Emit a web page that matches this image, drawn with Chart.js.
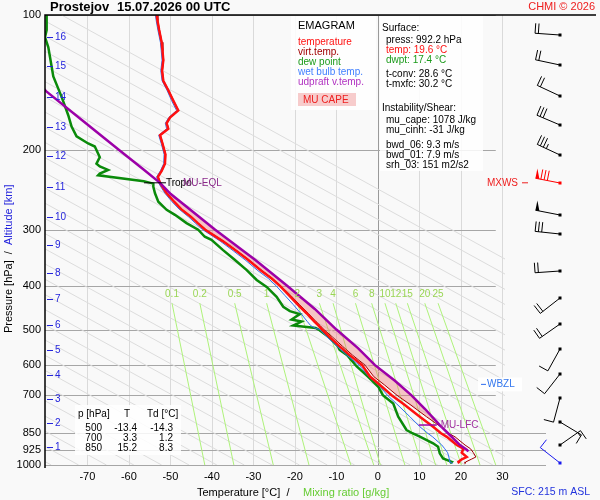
<!DOCTYPE html>
<html>
<head>
<meta charset="utf-8">
<title>Emagram Prostejov</title>
<script src="https://cdn.jsdelivr.net/npm/chart.js@4.4.0/dist/chart.umd.min.js"></script>
<style>
  html, body { margin: 0; padding: 0; background: #f9f9f9; }
  canvas { display: block; }
</style>
</head>
<body>
<canvas id="emagram" width="600" height="500"></canvas>
<script>
/*
*/
// environment profile levels [hPa]
const tPres = [100, 103, 108, 115, 120, 126, 133, 140, 147, 155,
  163, 169, 174, 179, 185, 193, 204, 214, 222, 229,
  236, 240, 249, 260, 270, 281, 290, 300, 318, 335,
  350, 370, 385, 400, 420, 440, 460, 480, 490, 497,
  500, 520, 545, 570, 600, 636, 664, 700, 731, 781,
  822, 850, 866, 903, 920, 939, 960, 971, 984, 992];
// temperature [°C]
const tVals = [-53.3, -53.1, -52.7, -52.1, -51.9, -51.7, -52.0, -51.7, -50.5, -49.3,
  -48.1, -50.1, -50.9, -50.5, -52.5, -51.9, -51.2, -51.3, -52.1, -53.0,
  -52.5, -52.0, -50.9, -49.1, -47.4, -45.0, -43.4, -41.6, -37.4, -34.0,
  -31.3, -28.1, -25.6, -23.6, -21.4, -19.3, -17.2, -15.3, -14.3, -13.7,
  -13.4, -11.6, -9.2, -6.8, -3.8, -1.9, 0.5, 3.3, 6.1, 10.1,
  13.3, 15.2, 16.6, 19.0, 20.6, 20.2, 21.4, 20.2, 19.4, 19.6];
// virtual temperature [°C]
const tvVals = [-53.2, -53.0, -52.6, -52.0, -51.8, -51.6, -51.9, -51.6, -50.4, -49.2,
  -48.0, -50.0, -50.8, -50.4, -52.4, -51.8, -51.1, -51.2, -52.0, -52.9,
  -52.4, -51.9, -50.8, -49.0, -47.3, -44.9, -43.3, -41.5, -37.2, -33.8,
  -31.1, -27.9, -25.4, -23.4, -21.0, -18.9, -16.8, -14.9, -13.9, -13.3,
  -13.0, -10.9, -8.5, -6.1, -3.1, -1.0, 1.6, 4.6, 7.5, 11.7,
  15.1, 17.0, 18.6, 21.0, 22.3, 23.0, 23.6, 22.5, 21.2, 21.0];
// wet bulb temperature [°C]
const twVals = [-53.6, -53.4, -53.0, -52.4, -52.2, -52.0, -52.3, -52.0, -50.8, -49.7,
  -48.5, -50.4, -51.2, -50.9, -52.8, -52.2, -51.5, -51.6, -52.4, -53.3,
  -52.8, -52.4, -51.3, -49.6, -47.9, -45.6, -44.0, -42.2, -38.0, -34.7,
  -32.0, -28.9, -26.4, -24.5, -22.4, -20.4, -18.6, -17.0, -16.2, -15.0,
  -14.0, -12.2, -9.8, -7.5, -4.5, -2.2, 0.2, 2.3, 4.5, 7.7,
  10.1, 12.0, 13.2, 15.4, 16.1, 16.8, 17.1, 17.2, 17.3, 18.0];

// dew point has its own levels
const tdPres = [100, 108, 112, 118, 127, 137, 152, 167, 177, 186,
  193, 196, 207, 214, 217, 221, 225, 227, 234, 237,
  241, 249, 260, 271, 278, 290, 300, 311, 316, 333,
  350, 369, 388, 402, 423, 445, 455, 462, 475, 480,
  490, 496, 500, 520, 545, 555, 570, 604, 636, 670,
  700, 730, 781, 836, 850, 865, 895, 911, 942, 967,
  984, 992];
const tdVals = [-79.8, -79.8, -80.2, -79.4, -78.8, -78.2, -76.2, -74.6, -73.8, -72.6,
  -69.8, -68.2, -67.0, -67.8, -67.0, -65.0, -67.0, -67.4, -56.4, -54.1,
  -54.1, -53.7, -52.9, -50.9, -48.9, -46.1, -43.3, -41.7, -40.1, -37.3,
  -34.5, -31.6, -29.2, -26.8, -24.4, -22.8, -21.2, -18.8, -20.8, -18.4,
  -20.4, -15.0, -14.3, -11.8, -9.6, -9.2, -7.4, -5.1, -2.4, 0.1,
  1.2, 3.7, 4.9, 6.9, 8.3, 10.1, 13.3, 14.5, 14.9, 15.7,
  17.8, 17.4];

// most unstable parcel (virtual temperature)
const parcelPres = [140, 148, 170, 200, 220, 236, 250, 300, 350, 400, 450, 500,
  550, 600, 650, 700, 750, 800, 815, 850, 900, 925, 933];
const parcelVals = [-82.6, -79.8, -71.7, -62.2, -56.6, -52.5, -49.9, -39.2, -29.6, -21.8, -15.2, -10.0,
  -4.8, -0.7, 4.1, 8.1, 11.3, 14.1, 14.9, 16.9, 19.6, 21.4, 21.8];

const muLfcPres = 815;
const muEqlPres = 236;
const tropoPres = 236;
const wbzlPres = 662;

// winds: pressure [hPa], direction [deg], speed [kt]
const windPres = [111, 129, 151, 176, 205, 236, 278, 307, 371, 426, 486, 552, 628, 710, 803, 903, 990];
const windDir = [274, 282, 295, 293, 295, 281, 281, 276, 266, 232, 235, 209, 218, 195, 121, 55, 308];
const windSpd = [20, 20, 20, 30, 35, 80, 50, 30, 20, 20, 20, 10, 10, 10, 10, 15, 10];
const mxwsIndex = 5;

// axes
const presTicks = [100, 200, 300, 400, 500, 600, 700, 850, 925, 1000];
const tempTicks = [-70, -60, -50, -40, -30, -20, -10, 0, 10, 20, 30];
const altKm = [1, 2, 3, 4, 5, 6, 7, 8, 9, 10, 11, 12, 13, 14, 15, 16];
const altPres = [911, 808, 715, 632, 555, 489, 428, 374, 324, 281, 241, 206, 177, 152, 130, 112];

// background lines
const mixRatios = ['0.1', '0.2', '0.5', '1', '2', '3', '4', '6', '8', '10', '12', '15', '20', '25'];
const mixTopT = [-49.6, -42.9, -34.5, -26.8, -19.4, -14.1, -10.8, -5.4, -1.5, 1.7, 4.3, 7.1, 11.3, 14.5];
const mixBotT = [-41.7, -34.7, -25.2, -16.6, -6.5, -1.0, 0.6, 6.5, 10.6, 13.9, 16.6, 20.1, 24.6, 28.4];
const mixTopPres = 437;
const adiabatFoot = [-78.7, -72.1, -65.4, -58.8, -52.1, -45.5, -38.8, -32.2, -25.5, -18.9,
  -12.2, -5.6, 1.1, 7.8, 14.4, 21.1, 27.7, 34.4, 41.0, 47.7, 54.3, 61.0, 67.6, 74.3,
  80.9, 87.6, 94.2, 100.9, 107.5, 114.2, 120.8];
const adiabatRise = 197; // drop in °C from 1000 to 100 hPa

// text blocks
const tableP = ['500', '700', '850'];
const tableT = ['-13.4', '3.3', '15.2'];
const tableTd = ['-14.3', '1.2', '8.3'];

/*
  CHART
*/
const FONT = '"Liberation Sans", Arial, sans-serif';
const font = (size, bold) => (bold ? 'bold ' : '') + size + 'px ' + FONT;

const RED = '#ff1010';
const DARKRED = '#a00000';
const GREEN = '#0a8a0a';
const BLUE = '#2f6ff0';
const PURPLE = '#9c00a8';
const ALTBLUE = '#2424dc';
const MIXGREEN = '#aef27a';

function profile(pres, vals) {
  return pres.map((p, i) => ({ x: vals[i], y: p }));
}

function lineSet(label, data, color, width, order, extra) {
  return Object.assign({
    label: label,
    data: data,
    showLine: true,
    borderColor: color,
    borderWidth: width,
    pointRadius: 0,
    fill: false,
    tension: 0,
    order: order,
  }, extra || {});
}

const datasets = [
  lineSet('updraft v.temp.', profile(parcelPres, parcelVals), PURPLE, 2.5, 1),
  lineSet('temperature', profile(tPres, tVals), RED, 2.5, 2),
  lineSet('virt.temp.', profile(tPres, tvVals), DARKRED, 1, 3),
  lineSet('wet bulb temp.', profile(tPres, twVals), BLUE, 1, 4),
  lineSet('dew point', profile(tdPres, tdVals), GREEN, 2.5, 5),
];
mixRatios.forEach((m, i) => {
  datasets.push(lineSet('mix ' + m, [{ x: mixTopT[i], y: mixTopPres }, { x: mixBotT[i], y: 1000 }],
    MIXGREEN, 1, 8));
});
adiabatFoot.forEach((t) => {
  datasets.push(lineSet('adiabat', [{ x: t, y: 1000 }, { x: t - adiabatRise, y: 100 }],
    '#dcdcdc', 1, 9, { clip: { left: 0, top: 0, right: -41, bottom: 0 } }));
});

// CAPE area between parcel and environment virtual temperature
function capePolygon() {
  const pts = [];
  parcelPres.forEach((p, i) => {
    if (p >= muEqlPres && p <= muLfcPres) pts.push([parcelVals[i], p]);
  });
  for (let i = tPres.length - 1; i >= 0; i--) {
    if (tPres[i] >= muEqlPres && tPres[i] <= muLfcPres) pts.push([tvVals[i], tPres[i]]);
  }
  return pts;
}

const backgroundPlugin = {
  id: 'background',
  beforeDraw(chart) {
    const ctx = chart.ctx;
    ctx.save();
    ctx.fillStyle = '#f9f9f9';
    ctx.fillRect(0, 0, chart.width, chart.height);
    ctx.restore();
  },
  beforeDatasetsDraw(chart) {
    const { ctx, chartArea: a, scales: { x, y } } = chart;
    ctx.save();
    ctx.lineWidth = 1;
    tempTicks.forEach((t) => {
      const px = Math.round(x.getPixelForValue(t)) + 0.5;
      ctx.strokeStyle = t === 0 ? '#9a9a9a' : '#dadada';
      ctx.beginPath();
      ctx.moveTo(px, a.top);
      ctx.lineTo(px, a.bottom);
      ctx.stroke();
    });
    ctx.strokeStyle = '#a6a6a6';
    presTicks.forEach((p) => {
      const py = Math.round(y.getPixelForValue(p)) + 0.5;
      const end = p >= 850 ? a.right : x.getPixelForValue(28.4);
      ctx.beginPath();
      ctx.moveTo(a.left, py);
      ctx.lineTo(end, py);
      ctx.stroke();
    });
    ctx.restore();
  },
  beforeDatasetDraw(chart, args) {
    if (chart.data.datasets[args.index].label !== 'dew point') return;
    const { ctx, chartArea: a, scales: { x, y } } = chart;
    ctx.save();
    ctx.beginPath();
    ctx.rect(a.left, a.top, a.right - a.left, a.bottom - a.top);
    ctx.clip();
    ctx.beginPath();
    capePolygon().forEach(([t, p], i) => {
      const px = x.getPixelForValue(t), py = y.getPixelForValue(p);
      if (i === 0) ctx.moveTo(px, py); else ctx.lineTo(px, py);
    });
    ctx.closePath();
    ctx.fillStyle = 'rgba(240, 110, 110, 0.38)';
    ctx.fill();
    ctx.restore();
  },
};

function drawBarb(ctx, x0, y0, dir, spd, color) {
  const rad = dir * Math.PI / 180;
  const sx = Math.sin(rad), sy = -Math.cos(rad);
  const px = -sy, py = sx;
  const L = 25;
  const ex = x0 + sx * L, ey = y0 + sy * L;
  ctx.strokeStyle = color;
  ctx.fillStyle = color;
  ctx.lineWidth = 1;
  ctx.beginPath();
  ctx.moveTo(x0, y0);
  ctx.lineTo(ex, ey);
  ctx.stroke();
  ctx.fillRect(x0 - 1.5, y0 - 1.5, 3, 3);
  let rest = Math.round(spd / 5) * 5;
  let d = 0;
  while (rest >= 50) {
    const ax = ex - sx * d, ay = ey - sy * d;
    const bx = ex - sx * (d + 4), by = ey - sy * (d + 4);
    ctx.beginPath();
    ctx.moveTo(ax, ay);
    ctx.lineTo(ax + px * 10, ay + py * 10);
    ctx.lineTo(bx, by);
    ctx.closePath();
    ctx.fill();
    d += 5.5;
    rest -= 50;
  }
  while (rest >= 5) {
    const len = rest >= 10 ? 10 : 5;
    const ax = ex - sx * d, ay = ey - sy * d;
    ctx.beginPath();
    ctx.moveTo(ax, ay);
    ctx.lineTo(ax + px * len, ay + py * len);
    ctx.stroke();
    d += 3.3;
    rest -= len;
  }
}

function text(ctx, str, x, y, color, size, align, bold) {
  ctx.font = font(size, bold);
  ctx.fillStyle = color;
  ctx.textAlign = align || 'left';
  ctx.textBaseline = 'middle';
  ctx.fillText(str, x, y);
}

const overlayPlugin = {
  id: 'overlay',
  afterDatasetsDraw(chart) {
    const { ctx, chartArea: a, scales: { x, y } } = chart;
    ctx.save();

    // frame
    ctx.strokeStyle = '#000';
    ctx.lineWidth = 1.5;
    ctx.beginPath();
    ctx.moveTo(596, a.top);
    ctx.lineTo(a.left, a.top);
    ctx.lineTo(a.left, a.bottom + 3);
    ctx.stroke();

    // title
    text(ctx, 'Prostejov', 50, 7, '#000', 13, 'left', true);
    text(ctx, '15.07.2026 00 UTC', 117, 7, '#000', 13, 'left', true);
    text(ctx, 'CHMI \u00a9 2026', 595, 7, '#ee2020', 11, 'right');

    // pressure ticks
    presTicks.forEach((p) => text(ctx, String(p), 41, y.getPixelForValue(p), '#000', 11, 'right'));
    // temperature ticks
    tempTicks.forEach((t) => text(ctx, String(t), x.getPixelForValue(t), 477, '#000', 11, 'center'));

    // altitude ticks
    ctx.strokeStyle = ALTBLUE;
    ctx.lineWidth = 1;
    altKm.forEach((k, i) => {
      const py = Math.round(y.getPixelForValue(altPres[i])) + 0.5;
      ctx.beginPath();
      ctx.moveTo(47, py);
      ctx.lineTo(53, py);
      ctx.stroke();
      text(ctx, String(k), 55, py, ALTBLUE, 10, 'left');
    });

    // axis titles
    ctx.save();
    ctx.translate(9, 333);
    ctx.rotate(-Math.PI / 2);
    let cx = 0;
    [['Pressure [hPa]', '#000'], ['  /  ', '#000'], ['Altitude [km]', ALTBLUE]].forEach(([s, c]) => {
      text(ctx, s, cx, 0, c, 11, 'left');
      cx += ctx.measureText(s).width;
    });
    ctx.restore();
    text(ctx, 'Temperature [\u00b0C]  /', 197, 493, '#000', 11, 'left');
    text(ctx, 'Mixing ratio [g/kg]', 303, 493, '#66cc33', 11, 'left');
    text(ctx, 'SFC: 215 m ASL', 590, 492, '#2233dd', 10.5, 'right');

    // mixing ratio labels
    mixRatios.forEach((m, i) => {
      text(ctx, m, x.getPixelForValue(mixTopT[i]), y.getPixelForValue(mixTopPres) - 9, '#9ad655', 10, 'center');
    });

    // tropopause / EQL
    const tyy = y.getPixelForValue(tropoPres);
    const txx = x.getPixelForValue(-52.5);
    ctx.strokeStyle = '#000';
    ctx.lineWidth = 1;
    ctx.beginPath();
    ctx.moveTo(txx - 16, tyy);
    ctx.lineTo(txx + 6, tyy);
    ctx.stroke();
    text(ctx, 'Tropo', txx + 6, tyy, '#000', 10, 'left');
    text(ctx, 'MU-EQL', txx + 23, y.getPixelForValue(muEqlPres), '#8a2a8a', 10, 'left');

    // LFC
    const lyy = y.getPixelForValue(muLfcPres);
    const lxx = x.getPixelForValue(14.9);
    ctx.strokeStyle = PURPLE;
    ctx.lineWidth = 1.5;
    ctx.beginPath();
    ctx.moveTo(lxx - 21, lyy);
    ctx.lineTo(lxx - 3, lyy);
    ctx.stroke();
    text(ctx, 'MU-LFC', lxx + 1, lyy, '#a030a0', 10, 'left');

    // WBZL
    const wyy = y.getPixelForValue(wbzlPres);
    ctx.fillStyle = 'rgba(255,255,255,0.9)';
    ctx.fillRect(478, wyy - 7, 44, 14);
    ctx.strokeStyle = BLUE;
    ctx.lineWidth = 1;
    ctx.beginPath();
    ctx.moveTo(481, wyy);
    ctx.lineTo(486, wyy);
    ctx.stroke();
    text(ctx, 'WBZL', 487, wyy, '#3377ee', 10, 'left');

    // MXWS
    const myy = y.getPixelForValue(windPres[mxwsIndex]);
    text(ctx, 'MXWS', 518, myy, '#ee2020', 10, 'right');
    ctx.strokeStyle = '#ee2020';
    ctx.beginPath();
    ctx.moveTo(522, myy);
    ctx.lineTo(528, myy);
    ctx.stroke();

    // wind barbs
    windPres.forEach((p, i) => {
      let color = '#000';
      if (i === mxwsIndex) color = '#ff0000';
      if (i === windPres.length - 1) color = '#1a1aee';
      drawBarb(ctx, 560, Math.round(y.getPixelForValue(p)), windDir[i], windSpd[i], color);
    });

    // legend box
    ctx.fillStyle = 'rgba(255,255,255,0.85)';
    ctx.fillRect(291, 16, 85, 94);
    text(ctx, 'EMAGRAM', 298, 26, '#000', 11, 'left');
    [['temperature', RED], ['virt.temp.', DARKRED], ['dew point', '#1a9a1a'],
      ['wet bulb temp.', '#3f7fff'], ['udpraft v.temp.', '#b030c0']].forEach(([s, c], i) => {
      text(ctx, s, 298, 42 + i * 10, c, 10, 'left');
    });
    ctx.fillStyle = '#f7cccc';
    ctx.fillRect(298, 93, 58, 13);
    text(ctx, 'MU CAPE', 303, 100, '#ee2020', 10, 'left');

    // stats box
    ctx.fillStyle = 'rgba(255,255,255,0.85)';
    ctx.fillRect(380, 16, 103, 155);
    const stats = [
      ['Surface:', '#000', 382, 28],
      ['press: 992.2 hPa', '#000', 386, 40],
      ['temp: 19.6 \u00b0C', RED, 386, 50],
      ['dwpt: 17.4 \u00b0C', '#1a9a1a', 386, 60],
      ['t-conv: 28.6 \u00b0C', '#000', 386, 74],
      ['t-mxfc: 30.2 \u00b0C', '#000', 386, 84],
      ['Instability/Shear:', '#000', 382, 108],
      ['mu_cape: 1078 J/kg', '#000', 386, 120],
      ['mu_cinh: -31 J/kg', '#000', 386, 130],
      ['bwd_06: 9.3 m/s', '#000', 386, 145],
      ['bwd_01: 7.9 m/s', '#000', 386, 155],
      ['srh_03: 151 m2/s2', '#000', 386, 165],
    ];
    stats.forEach(([s, c, sx, sy]) => text(ctx, s, sx, sy, c, 10, 'left'));

    // level table
    ctx.fillStyle = 'rgba(255,255,255,0.85)';
    ctx.fillRect(75, 405, 106, 50);
    text(ctx, 'p [hPa]', 78, 414, '#000', 10, 'left');
    text(ctx, 'T', 124, 414, '#000', 10, 'left');
    text(ctx, 'Td [\u00b0C]', 147, 414, '#000', 10, 'left');
    tableP.forEach((p, i) => {
      const ry = 428 + i * 10.3;
      text(ctx, p, 102, ry, '#000', 10, 'right');
      text(ctx, tableT[i], 137, ry, '#000', 10, 'right');
      text(ctx, tableTd[i], 173, ry, '#000', 10, 'right');
    });

    ctx.restore();
  },
};

const emagram = new Chart(document.getElementById('emagram').getContext('2d'), {
  type: 'scatter',
  data: { datasets: datasets },
  options: {
    responsive: false,
    animation: false,
    events: [],
    layout: { padding: { left: 45, top: 15, right: 54, bottom: 35 } },
    scales: {
      x: { type: 'linear', min: -80.2, max: 40.5, display: false },
      y: { type: 'logarithmic', min: 100, max: 1000, reverse: true, display: false },
    },
    plugins: {
      legend: { display: false },
      tooltip: { enabled: false },
    },
  },
  plugins: [backgroundPlugin, overlayPlugin],
});
</script>
</body>
</html>
